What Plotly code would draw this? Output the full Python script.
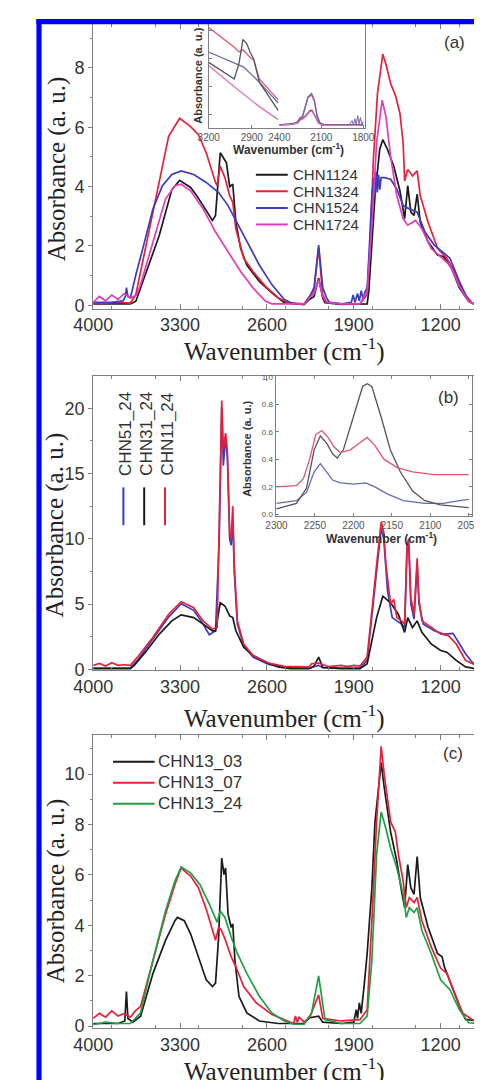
import plotly.graph_objects as go

W, H = 482, 1080

# ---------------- data : panel (a) ----------------
a_names = ["CHN1124", "CHN1324", "CHN1524", "CHN1724"]
a_wn_1124 = [4000, 3850, 3750, 3700, 3656, 3568, 3467, 3366, 3303, 3215, 3165, 3114, 3039, 3014, 2976, 2951, 2926, 2900, 2875, 2850, 2812, 2762, 2661, 2560, 2460, 2300, 2258, 2220, 2183, 2150, 2132, 2000, 1850, 1792, 1779, 1754, 1729, 1691, 1666, 1628, 1578, 1528, 1490, 1465, 1440, 1414, 1389, 1364, 1301, 1225, 1175, 1112, 1049, 974, 923, 900]
a_ab_1124 = [0.05, 0.05, 0.06, 0.05, 0.14, 1.14, 2.36, 3.9, 4.21, 3.97, 3.69, 3.36, 2.86, 3.03, 5.14, 4.97, 4.8, 4.0, 4.08, 2.8, 1.92, 1.36, 0.81, 0.42, 0.09, 0.03, 0.2, 0.3, 0.92, 0.25, 0.09, 0.03, 0.03, 0.05, 0.48, 2.14, 3.69, 5.25, 5.58, 5.25, 4.69, 3.86, 2.92, 4.03, 3.14, 3.03, 3.75, 2.8, 2.14, 1.7, 1.64, 1.25, 0.59, 0.14, 0.03, 0.02]
a_wn_1324 = [4000, 3900, 3800, 3700, 3656, 3568, 3467, 3392, 3303, 3215, 3152, 3089, 3014, 3001, 2976, 2938, 2900, 2875, 2850, 2787, 2712, 2611, 2510, 2434, 2300, 2250, 2220, 2183, 2150, 2120, 2000, 1850, 1792, 1767, 1742, 1709, 1666, 1641, 1603, 1565, 1528, 1502, 1490, 1465, 1427, 1389, 1364, 1301, 1225, 1150, 1087, 1024, 948, 900]
a_ab_1324 = [0.05, 0.08, 0.1, 0.08, 0.37, 2.14, 4.25, 5.69, 6.3, 6.02, 5.75, 5.14, 4.14, 4.03, 4.69, 4.3, 3.69, 3.47, 2.58, 1.59, 1.14, 0.64, 0.26, 0.09, 0.05, 0.35, 0.5, 1.95, 0.35, 0.12, 0.05, 0.05, 0.37, 2.14, 4.91, 7.13, 8.46, 8.13, 7.47, 7.08, 6.47, 5.47, 4.19, 4.58, 4.36, 4.53, 3.69, 2.8, 1.92, 1.59, 1.14, 0.48, 0.09, 0.03]
a_wn_1524 = [4000, 3850, 3760, 3740, 3732, 3720, 3700, 3656, 3593, 3518, 3442, 3366, 3291, 3190, 3089, 2989, 2913, 2838, 2762, 2661, 2560, 2460, 2384, 2300, 2246, 2220, 2183, 2150, 2120, 2095, 2000, 1920, 1905, 1890, 1870, 1855, 1840, 1825, 1810, 1792, 1779, 1754, 1740, 1730, 1720, 1710, 1700, 1690, 1680, 1653, 1603, 1553, 1502, 1452, 1389, 1326, 1251, 1175, 1125, 1049, 974, 930, 900]
a_ab_1524 = [0.1, 0.1, 0.15, 0.3, 0.6, 0.3, 0.25, 1.03, 2.03, 3.25, 4.03, 4.41, 4.53, 4.41, 4.14, 3.8, 3.36, 2.75, 2.14, 1.36, 0.7, 0.2, 0.05, 0.05, 0.37, 0.6, 2.03, 0.6, 0.26, 0.09, 0.05, 0.1, 0.35, 0.1, 0.4, 0.15, 0.5, 0.2, 0.45, 0.6, 1.59, 3.69, 4.3, 3.7, 4.5, 3.8, 4.4, 3.9, 4.3, 4.3, 4.25, 3.92, 3.36, 3.25, 3.14, 2.47, 2.03, 1.75, 1.59, 0.81, 0.14, 0.05, 0.03]
a_wn_1724 = [4000, 3950, 3900, 3850, 3800, 3750, 3700, 3650, 3618, 3518, 3417, 3341, 3291, 3215, 3114, 3014, 2913, 2812, 2712, 2611, 2560, 2300, 2246, 2220, 2183, 2150, 2120, 2000, 1850, 1792, 1754, 1716, 1671, 1641, 1603, 1553, 1502, 1465, 1402, 1351, 1276, 1200, 1125, 1049, 974, 930, 900]
a_ab_1724 = [0.1, 0.3, 0.15, 0.35, 0.2, 0.4, 0.25, 0.35, 0.7, 2.14, 3.58, 4.03, 4.08, 3.86, 3.25, 2.47, 1.81, 1.14, 0.59, 0.14, 0.05, 0.05, 0.3, 0.4, 0.87, 0.3, 0.1, 0.05, 0.05, 0.48, 2.7, 5.47, 6.91, 6.36, 5.02, 3.69, 2.92, 2.7, 2.86, 2.58, 1.92, 1.64, 1.36, 0.64, 0.14, 0.05, 0.03]

# inset (a): C-H region (arbitrary units)
ia_wn_1124 = [3200, 3022, 2989, 2961, 2935, 2912, 2886, 2847, 2716]
ia_ab_1124 = [0.63, 0.47, 0.62, 0.85, 0.81, 0.73, 0.66, 0.44, 0.17]
ia_wn_1324 = [3200, 3022, 2989, 2961, 2912, 2886, 2847, 2716]
ia_ab_1324 = [0.965, 0.775, 0.73, 0.75, 0.68, 0.65, 0.47, 0.27]
ia_wn_1524 = [3200, 3087, 2956, 2847, 2716]
ia_ab_1524 = [0.73, 0.66, 0.585, 0.44, 0.24]
ia_wn_1724 = [3200, 3022, 2847, 2716]
ia_ab_1724 = [0.6, 0.395, 0.205, 0.08]
# inset (a): nitrile region
ib_wn_tall = [2400, 2300, 2270, 2250, 2235, 2215, 2195, 2170, 2150, 2130, 2110, 2080, 1950, 1800]
ib_ab_1524 = [0.03, 0.035, 0.06, 0.1, 0.11, 0.2, 0.3, 0.33, 0.27, 0.12, 0.05, 0.03, 0.03, 0.03]
ib_ab_1324 = [0.03, 0.035, 0.055, 0.09, 0.1, 0.19, 0.29, 0.32, 0.26, 0.11, 0.05, 0.03, 0.03, 0.03]
ib_wn_small = [2400, 2270, 2250, 2235, 2210, 2180, 2165, 2145, 2120, 2090, 1800]
ib_ab_1124 = [0.03, 0.05, 0.08, 0.09, 0.12, 0.17, 0.17, 0.12, 0.05, 0.03, 0.03]
ib_ab_1724 = [0.025, 0.045, 0.075, 0.085, 0.11, 0.16, 0.16, 0.11, 0.045, 0.025, 0.025]
ib_wn_noise = [1900, 1880, 1870, 1860, 1850, 1840, 1830, 1820, 1810, 1800]
ib_ab_noise = [0.03, 0.07, 0.03, 0.09, 0.03, 0.12, 0.04, 0.1, 0.03, 0.06]

# ---------------- data : panel (b) ----------------
b_names = ["CHN51_24", "CHN31_24", "CHN11_24"]
b_wn_51 = [4000, 3800, 3700, 3643, 3518, 3392, 3291, 3190, 3114, 3064, 3014, 2984, 2964, 2951, 2933, 2918, 2900, 2888, 2875, 2863, 2838, 2787, 2712, 2586, 2435, 2250, 2220, 2183, 2150, 2000, 1850, 1792, 1754, 1716, 1679, 1658, 1628, 1590, 1553, 1515, 1490, 1471, 1457, 1440, 1414, 1389, 1374, 1339, 1251, 1175, 1100, 1049, 999, 948, 898]
b_ab_51 = [0.1, 0.1, 0.12, 0.68, 2.32, 4.0, 5.02, 4.52, 3.46, 2.65, 2.95, 10.0, 20.1, 15.6, 17.8, 16.1, 10.0, 9.5, 11.5, 7.5, 3.46, 1.82, 0.93, 0.38, 0.13, 0.1, 0.2, 0.3, 0.12, 0.1, 0.1, 0.68, 3.96, 7.75, 10.8, 10.0, 6.0, 3.96, 3.71, 3.46, 3.2, 9.0, 9.5, 5.0, 3.84, 8.0, 5.0, 3.46, 2.95, 2.7, 2.75, 1.94, 1.19, 0.56, 0.18]
b_wn_31 = [4000, 3800, 3700, 3669, 3568, 3467, 3366, 3291, 3190, 3114, 3039, 3014, 2976, 2938, 2900, 2875, 2850, 2787, 2712, 2611, 2510, 2410, 2260, 2220, 2183, 2150, 2000, 1850, 1792, 1754, 1716, 1666, 1603, 1540, 1502, 1490, 1465, 1427, 1389, 1351, 1276, 1200, 1150, 1074, 999, 923, 900]
b_ab_31 = [0.05, 0.05, 0.05, 0.3, 1.44, 2.7, 3.71, 4.17, 3.96, 3.46, 2.95, 2.95, 5.1, 4.85, 4.09, 3.96, 2.95, 1.69, 1.06, 0.56, 0.18, 0.05, 0.05, 0.25, 0.93, 0.15, 0.05, 0.05, 0.43, 2.2, 3.96, 5.6, 5.1, 4.2, 3.2, 2.83, 3.96, 3.2, 3.71, 2.83, 1.94, 1.44, 1.31, 0.68, 0.18, 0.05, 0.03]
b_wn_11 = [4000, 3950, 3900, 3850, 3800, 3750, 3700, 3643, 3518, 3392, 3291, 3190, 3114, 3039, 3001, 2984, 2964, 2951, 2933, 2918, 2900, 2888, 2875, 2863, 2838, 2787, 2712, 2586, 2460, 2258, 2240, 2183, 2100, 2000, 1950, 1900, 1850, 1792, 1754, 1716, 1679, 1658, 1641, 1603, 1578, 1553, 1515, 1490, 1471, 1457, 1440, 1414, 1389, 1376, 1351, 1276, 1200, 1137, 1074, 999, 923, 900]
b_ab_11 = [0.3, 0.45, 0.25, 0.5, 0.3, 0.35, 0.3, 0.93, 2.45, 4.22, 5.18, 4.72, 3.71, 3.08, 3.2, 10.5, 20.6, 16.8, 18.1, 16.6, 10.5, 10.0, 12.5, 8.0, 3.71, 1.94, 1.06, 0.48, 0.23, 0.18, 0.43, 0.48, 0.2, 0.3, 0.2, 0.3, 0.25, 0.93, 4.2, 8.0, 11.3, 10.5, 8.0, 5.0, 5.35, 3.96, 3.71, 3.46, 9.5, 10.0, 5.48, 4.22, 8.5, 5.48, 3.71, 3.2, 2.7, 2.58, 1.94, 0.68, 0.3, 0.25]

# inset (b)
bi_wn_11 = [2300, 2274, 2265, 2257, 2249, 2241, 2233, 2225, 2217, 2204, 2192, 2182, 2172, 2160, 2143, 2123, 2095, 2050]
bi_ab_11 = [0.2, 0.21, 0.26, 0.4, 0.58, 0.61, 0.56, 0.49, 0.45, 0.47, 0.52, 0.56, 0.5, 0.4, 0.34, 0.31, 0.29, 0.29]
bi_wn_31 = [2300, 2274, 2261, 2251, 2243, 2235, 2227, 2221, 2213, 2200, 2188, 2182, 2176, 2164, 2152, 2139, 2123, 2107, 2087, 2050]
bi_ab_31 = [0.04, 0.08, 0.19, 0.47, 0.57, 0.52, 0.44, 0.41, 0.47, 0.71, 0.93, 0.95, 0.93, 0.71, 0.47, 0.31, 0.17, 0.1, 0.07, 0.05]
bi_wn_51 = [2300, 2274, 2261, 2251, 2243, 2235, 2227, 2217, 2200, 2184, 2172, 2156, 2135, 2107, 2083, 2062, 2050]
bi_ab_51 = [0.08, 0.1, 0.16, 0.31, 0.37, 0.31, 0.25, 0.23, 0.22, 0.23, 0.2, 0.15, 0.1, 0.08, 0.08, 0.1, 0.11]

# ---------------- data : panel (c) ----------------
c_names = ["CHN13_03", "CHN13_07", "CHN13_24"]
c_wn_03 = [4000, 3900, 3800, 3745, 3732, 3720, 3680, 3618, 3518, 3417, 3341, 3321, 3266, 3215, 3152, 3089, 3039, 3014, 2989, 2964, 2946, 2933, 2913, 2888, 2875, 2858, 2825, 2762, 2661, 2510, 2300, 2255, 2183, 2150, 2000, 1900, 1880, 1870, 1855, 1840, 1817, 1792, 1754, 1729, 1679, 1653, 1603, 1553, 1515, 1490, 1465, 1440, 1414, 1389, 1364, 1301, 1225, 1188, 1170, 1100, 1037, 999, 900]
c_ab_03 = [0.1, 0.1, 0.1, 0.2, 1.37, 0.3, 0.15, 0.39, 2.09, 3.4, 4.18, 4.31, 4.18, 3.66, 2.75, 1.83, 1.57, 1.7, 3.53, 6.67, 6.01, 6.27, 4.44, 3.92, 4.05, 2.61, 1.18, 0.52, 0.2, 0.1, 0.1, 0.33, 0.39, 0.15, 0.1, 0.15, 0.65, 0.3, 0.92, 0.5, 1.57, 2.88, 5.49, 8.1, 10.46, 9.41, 7.71, 6.54, 5.36, 4.7, 6.41, 5.49, 5.23, 6.73, 5.1, 3.92, 2.88, 2.75, 2.35, 1.44, 0.65, 0.26, 0.2]
c_wn_07 = [4000, 3950, 3900, 3850, 3800, 3750, 3700, 3660, 3618, 3518, 3417, 3341, 3291, 3215, 3152, 3089, 3014, 2989, 2969, 2938, 2888, 2850, 2787, 2686, 2560, 2434, 2384, 2370, 2355, 2340, 2300, 2250, 2183, 2150, 2000, 1850, 1792, 1754, 1716, 1679, 1653, 1603, 1565, 1540, 1502, 1477, 1452, 1414, 1389, 1351, 1276, 1200, 1150, 1087, 1024, 948, 900]
c_ab_07 = [0.3, 0.5, 0.35, 0.6, 0.4, 0.5, 0.35, 0.6, 0.78, 2.61, 4.44, 5.62, 6.27, 5.95, 5.49, 4.64, 3.4, 3.92, 3.82, 3.46, 2.75, 2.35, 1.57, 0.92, 0.46, 0.2, 0.1, 0.4, 0.15, 0.35, 0.15, 0.4, 1.24, 0.3, 0.2, 0.25, 0.65, 4.18, 8.1, 11.1, 9.93, 8.1, 7.71, 6.8, 5.75, 4.7, 5.1, 4.9, 5.1, 4.18, 3.14, 2.29, 2.09, 1.31, 0.52, 0.26, 0.2]
c_wn_24 = [4000, 3900, 3800, 3700, 3618, 3518, 3417, 3341, 3291, 3215, 3140, 3064, 3001, 2976, 2938, 2888, 2838, 2762, 2661, 2560, 2460, 2384, 2300, 2240, 2183, 2132, 2000, 1850, 1792, 1754, 1716, 1679, 1641, 1603, 1553, 1502, 1477, 1452, 1414, 1389, 1351, 1276, 1200, 1125, 1049, 974, 900]
c_ab_24 = [0.05, 0.15, 0.1, 0.1, 0.52, 2.61, 4.57, 5.75, 6.31, 6.08, 5.62, 4.84, 4.12, 4.57, 4.31, 3.53, 2.88, 2.09, 1.18, 0.52, 0.2, 0.07, 0.07, 0.52, 1.99, 0.26, 0.1, 0.1, 0.39, 2.61, 6.8, 8.5, 7.84, 7.06, 6.27, 5.23, 4.31, 4.7, 4.51, 4.7, 3.79, 2.88, 1.83, 1.44, 0.65, 0.13, 0.1]

# ---------------- styling ----------------
BLACK, RED, BLUE, MAG, GREEN = "#1a1a1a", "#e8203a", "#3c3cbc", "#e03cc0", "#1fa043"
I_BLACK, I_RED, I_BLUE, I_MAG = "#555555", "#e05575", "#6a6ab4", "#e070c8"
AXC = "#808080"
TXT = "#333333"
SANS = "Arial, Liberation Sans, sans-serif"
SERIF = "Times New Roman, Liberation Serif, serif"


def fx(px):
    return px / W


def fy(py):
    return 1 - py / H


fig = go.Figure()


def add(x, y, color, ax, name, width=1.7):
    fig.add_trace(go.Scatter(x=x, y=y, mode="lines", name=name, showlegend=False,
                             line=dict(color=color, width=width),
                             xaxis="x" + ax, yaxis="y" + ax))


# panel a (axis suffix "")
add(a_wn_1124, a_ab_1124, BLACK, "", a_names[0])
add(a_wn_1324, a_ab_1324, RED, "", a_names[1])
add(a_wn_1524, a_ab_1524, BLUE, "", a_names[2])
add(a_wn_1724, a_ab_1724, MAG, "", a_names[3])
# panel b
add(b_wn_51, b_ab_51, BLUE, "2", b_names[0])
add(b_wn_31, b_ab_31, BLACK, "2", b_names[1])
add(b_wn_11, b_ab_11, RED, "2", b_names[2])
# panel c
add(c_wn_03, c_ab_03, BLACK, "3", c_names[0])
add(c_wn_07, c_ab_07, RED, "3", c_names[1])
add(c_wn_24, c_ab_24, GREEN, "3", c_names[2])
# inset a, left segment
add(ia_wn_1524, ia_ab_1524, I_BLUE, "4", a_names[2], 1.3)
add(ia_wn_1724, ia_ab_1724, I_MAG, "4", a_names[3], 1.3)
add(ia_wn_1324, ia_ab_1324, I_RED, "4", a_names[1], 1.3)
add(ia_wn_1124, ia_ab_1124, I_BLACK, "4", a_names[0], 1.3)
# inset a, right segment
add(ib_wn_tall, ib_ab_1324, I_RED, "5", a_names[1], 1.3)
add(ib_wn_tall, ib_ab_1524, I_BLUE, "5", a_names[2], 1.3)
add(ib_wn_small, ib_ab_1124, I_BLACK, "5", a_names[0], 1.3)
add(ib_wn_small, ib_ab_1724, I_MAG, "5", a_names[3], 1.3)
add(ib_wn_noise, ib_ab_noise, I_BLUE, "5", a_names[2], 1.0)
# inset b
add(bi_wn_51, bi_ab_51, I_BLUE, "6", b_names[0], 1.3)
add(bi_wn_31, bi_ab_31, I_BLACK, "6", b_names[1], 1.3)
add(bi_wn_11, bi_ab_11, I_RED, "6", b_names[2], 1.3)

PX_L, PX_R = 69.5, 476
X_RANGE = [4000, 928]


def main_x(ytop, ybot, anchor):
    return dict(domain=[fx(PX_L), fx(PX_R)], range=X_RANGE, anchor=anchor,
                showline=True, linecolor=AXC, linewidth=1, mirror="ticks",
                ticks="inside", ticklen=5, tickcolor=AXC, tick0=1200, dtick=700,
                minor=dict(ticks="inside", ticklen=3, tickcolor=AXC, dtick=350),
                showgrid=False, zeroline=False,
                tickfont=dict(family=SANS, size=18, color=TXT))


def main_y(ytop, ybot, rng, dtick, mdtick, anchor):
    return dict(domain=[fy(ybot), fy(ytop)], range=rng, anchor=anchor,
                showline=True, linecolor=AXC, linewidth=1, mirror="ticks",
                ticks="outside", ticklen=4, tickcolor=AXC, tick0=0, dtick=dtick,
                minor=dict(ticks="outside", ticklen=2, tickcolor=AXC, dtick=mdtick),
                showgrid=False, zeroline=False,
                tickfont=dict(family=SANS, size=18, color=TXT))


A_T, A_B = 13, 301
B_T, B_B = 369, 666.7
C_T, C_B = 731.7, 1028.7

layout = dict(
    width=W, height=H, margin=dict(l=0, r=0, t=0, b=0),
    paper_bgcolor="white", plot_bgcolor="white", showlegend=False,
    xaxis=main_x(A_T, A_B, "y"),
    yaxis=main_y(A_T, A_B, [-0.11, 9.48], 2, 1, "x"),
    xaxis2=main_x(B_T, B_B, "y2"),
    yaxis2=main_y(B_T, B_B, [-0.076, 22.48], 5, 2.5, "x2"),
    xaxis3=main_x(C_T, C_B, "y3"),
    yaxis3=main_y(C_T, C_B, [-0.09, 11.57], 2, 1, "x3"),
)

# inset a
IA_T, IA_B = 13, 118.3
IA_L, IA_M, IA_R = 192.7, 268, 359
itick = dict(family=SANS, size=10, color="#555555")
layout["xaxis4"] = dict(domain=[fx(IA_L), fx(IA_M)], range=[3200, 2708], anchor="y4",
                        showline=True, linecolor=AXC, mirror=True, ticks="inside", ticklen=3,
                        tickcolor=AXC, tickvals=[3200, 2900], showgrid=False, zeroline=False,
                        tickfont=itick)
layout["yaxis4"] = dict(domain=[fy(IA_B), fy(IA_T)], range=[0, 1], anchor="x4",
                        showline=True, linecolor=AXC, ticks="inside", ticklen=3, tickcolor=AXC,
                        tick0=0.126, dtick=0.27, showticklabels=False, showgrid=False, zeroline=False)
layout["xaxis5"] = dict(domain=[fx(IA_M), fx(IA_R)], range=[2400, 1790], anchor="y5",
                        showline=True, linecolor=AXC, mirror=True, ticks="inside", ticklen=3,
                        tickcolor=AXC, tickvals=[2400, 2100, 1800], showgrid=False, zeroline=False,
                        tickfont=itick)
layout["yaxis5"] = dict(domain=[fy(IA_B), fy(IA_T)], range=[0, 1], anchor="x5", side="right",
                        showline=True, linecolor=AXC, ticks="", showticklabels=False,
                        showgrid=False, zeroline=False)

# inset b
IB_T, IB_B, IB_L, IB_R = 369, 510.5, 264, 473
layout["xaxis6"] = dict(domain=[fx(IB_L), fx(IB_R)], range=[2301.2, 2046.3], anchor="y6",
                        showline=True, linecolor=AXC, mirror="ticks", ticks="inside", ticklen=3,
                        tickcolor=AXC, tick0=2300, dtick=50, showgrid=False, zeroline=False,
                        tickfont=dict(family=SANS, size=10, color="#555555"))
layout["yaxis6"] = dict(domain=[fy(IB_B), fy(IB_T)], range=[-0.01, 1.007], anchor="x6",
                        showline=True, linecolor=AXC, mirror="ticks", ticks="inside", ticklen=3,
                        tickcolor=AXC, tick0=0, dtick=0.2, tickformat=".1f",
                        showgrid=False, zeroline=False,
                        tickfont=dict(family=SANS, size=8, color="#555555"))

fig.update_layout(**layout)

ann = []
shapes = []


def text(px, py, s, size, family=SANS, angle=0, xanchor="center", color=TXT, bold=False):
    if bold:
        s = "<b>" + s + "</b>"
    ann.append(dict(x=fx(px), y=fy(py), xref="paper", yref="paper", text=s, showarrow=False,
                    xanchor=xanchor, yanchor="middle", textangle=angle,
                    font=dict(family=family, size=size, color=color)))


def seg(x0, y0, x1, y1, color, width=2):
    shapes.append(dict(type="line", xref="paper", yref="paper", x0=fx(x0), y0=fy(y0),
                       x1=fx(x1), y1=fy(y1), line=dict(color=color, width=width)))


XT = "Wavenumber (cm<sup>-1</sup>)"
YT = "Absorbance (a. u.)"
# axis titles
text(273, 342, XT, 25, SERIF, color="#222222")
text(273, 713, XT, 25, SERIF, color="#222222")
text(273, 1070.5, XT, 25, SERIF, color="#222222")
text(31, 160, YT, 25, SERIF, angle=-90, color="#222222")
text(29, 520, YT, 25, SERIF, angle=-90, color="#222222")
text(30, 890, YT, 25, SERIF, angle=-90, color="#222222")
# panel labels
text(455, 32, "(a)", 17)
text(448, 390.7, "(b)", 17)
text(453, 750.7, "(c)", 17)
# inset titles
text(278, 139.3, XT, 12, bold=True, color="#333333")
text(181.7, 65, YT, 11, angle=-90, bold=True, color="#333333")
text(376.7, 533.3, XT, 12, bold=True, color="#333333")
text(233.3, 443, YT, 11, angle=-90, bold=True, color="#333333")

# legend (a)
for i, (nm, col) in enumerate(zip(a_names, [BLACK, RED, BLUE, MAG])):
    yy = 165.7 + i * 16.7
    seg(243, yy, 277, yy, col)
    text(280, yy, nm, 15, xanchor="left")
# legend (b) - vertical
for i, (nm, col) in enumerate(zip(b_names, [BLUE, BLACK, RED])):
    xx = 101.7 + i * 22.2
    seg(xx, 481.7, xx, 520, col)
    text(xx + 2.5, 428, nm, 17, angle=-90)
# legend (c)
for i, (nm, col) in enumerate(zip(c_names, [BLACK, RED, GREEN])):
    yy = 759.3 + i * 21.2
    seg(90.7, yy, 135, yy, col)
    text(136.7, yy, nm, 17, xanchor="left")

# blue frame
for (x0, y0, x1, y1) in [(9, 8, 490, 13.3), (9, 8, 14.5, 1090), (478.5, 8, 490, 1090)]:
    shapes.append(dict(type="rect", xref="paper", yref="paper", x0=fx(x0), y0=fy(y1),
                       x1=fx(x1), y1=fy(y0), fillcolor="#0000ff", line=dict(width=0),
                       layer="above"))

fig.update_layout(annotations=ann, shapes=shapes)
fig.write_html("out.html")
